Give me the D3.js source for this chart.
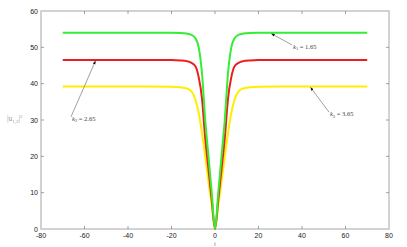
<!DOCTYPE html>
<html>
<head>
<meta charset="utf-8">
<script src="https://cdn.jsdelivr.net/npm/d3@7"></script>
<style>
    body { margin: 0; background: #fff; }
    svg { display: block; }
    .tick-label { font-family: "Liberation Sans", Arial, sans-serif; font-size: 7px; fill: #222; }
    .note { font-family: "Liberation Serif", "Times New Roman", serif; font-size: 6.5px; fill: #444; }
</style>
</head>
<body>
<svg id="chart" width="407" height="247"></svg>
<script>
// t samples
const tValues = [-70, -30, -20, -16, -13, -11, -9, -7.5, -6, -4.5, -3, -1.5, 0,
                 1.5, 3, 4.5, 6, 7.5, 9, 11, 13, 16, 20, 30, 70];

// |u|^2 for each k, read at the t samples above
const greenValues = [54, 54, 54, 53.95, 53.8, 53.5, 52.5, 50, 43, 30, 20, 10, 0,
                     10, 20, 30, 43, 50, 52.5, 53.5, 53.8, 53.95, 54, 54, 54];
const redValues = [46.5, 46.5, 46.5, 46.4, 46.2, 45.8, 44.8, 41.8, 36, 25, 16.5, 8, 0,
                   8, 16.5, 25, 36, 41.8, 44.8, 45.8, 46.2, 46.4, 46.5, 46.5, 46.5];
const yellowValues = [39.2, 39.2, 39.15, 39, 38.7, 38, 35.6, 32, 26.5, 20, 13, 6.5, 0,
                      6.5, 13, 20, 26.5, 32, 35.6, 38, 38.7, 39, 39.15, 39.2, 39.2];

const xTicks = [-80, -60, -40, -20, 0, 20, 40, 60, 80];
const yTicks = [0, 10, 20, 30, 40, 50, 60];

// annotations: subscript, value, data point the arrow hits, text position in data units
const notes = [
    { k: '1', val: '1.65', at: [26, 54], text: [35.4, 50.4] },
    { k: '2', val: '2.65', at: [-55, 46.5], text: [-66.2, 30.6] },
    { k: '3', val: '3.65', at: [44, 39.2], text: [52.4, 31.9] }
];

const series = [
    { values: yellowValues, color: '#ffee00' },
    { values: redValues, color: '#ee1c1c' },
    { values: greenValues, color: '#33ee33' }
];

const svg = d3.select('#chart');
const box = { left: 41, right: 389, top: 11, bottom: 229 };

const x = d3.scaleLinear().domain([-80, 80]).range([box.left, box.right]);
const y = d3.scaleLinear().domain([0, 60]).range([box.bottom, box.top]);

const axisColor = '#c4c4c4';

// frame
svg.append('rect')
    .attr('x', box.left).attr('y', box.top)
    .attr('width', box.right - box.left).attr('height', box.bottom - box.top)
    .attr('fill', 'none').attr('stroke', axisColor).attr('stroke-width', 1.5);

// inward ticks on all four sides
const tickLen = 3;
const g = svg.append('g').attr('stroke', '#888').attr('stroke-width', 0.8);
xTicks.slice(1, -1).forEach(t => {
    g.append('line').attr('x1', x(t)).attr('x2', x(t)).attr('y1', box.bottom).attr('y2', box.bottom - tickLen);
    g.append('line').attr('x1', x(t)).attr('x2', x(t)).attr('y1', box.top).attr('y2', box.top + tickLen);
});
yTicks.slice(1, -1).forEach(v => {
    g.append('line').attr('x1', box.left).attr('x2', box.left + tickLen).attr('y1', y(v)).attr('y2', y(v));
    g.append('line').attr('x1', box.right).attr('x2', box.right - tickLen).attr('y1', y(v)).attr('y2', y(v));
});

// tick labels
svg.append('g').selectAll('text')
    .data(xTicks)
    .enter().append('text')
    .attr('class', 'tick-label')
    .attr('x', d => x(d))
    .attr('y', box.bottom + 9)
    .attr('text-anchor', 'middle')
    .text(d => d);

svg.append('g').selectAll('text')
    .data(yTicks)
    .enter().append('text')
    .attr('class', 'tick-label')
    .attr('x', box.left - 3)
    .attr('y', d => y(d) + 2.5)
    .attr('text-anchor', 'end')
    .text(d => d);

// axis titles
const yLabel = svg.append('text')
    .attr('x', 7).attr('y', 121)
    .attr('font-family', '"Liberation Serif", serif')
    .attr('font-size', 7.5)
    .attr('fill', '#999');
yLabel.append('tspan').text('|u');
yLabel.append('tspan').attr('font-size', 5).attr('dy', 1.5).text('1,2');
yLabel.append('tspan').attr('dy', -1.5).text('|');
yLabel.append('tspan').attr('font-size', 5).attr('dy', -3).text('2');

svg.append('text')
    .attr('x', x(0)).attr('y', 246)
    .attr('text-anchor', 'middle')
    .attr('font-family', '"Liberation Serif", serif')
    .attr('font-style', 'italic')
    .attr('font-size', 6.5)
    .attr('fill', '#777')
    .text('t');

// curves
const line = d3.line()
    .x((d, i) => x(tValues[i]))
    .y(d => y(d))
    .curve(d3.curveMonotoneX);

svg.append('g').selectAll('path')
    .data(series)
    .enter().append('path')
    .attr('d', d => line(d.values))
    .attr('fill', 'none')
    .attr('stroke', d => d.color)
    .attr('stroke-width', 2);

// arrows
svg.append('defs').append('marker')
    .attr('id', 'head')
    .attr('viewBox', '0 0 10 10')
    .attr('refX', 9).attr('refY', 5)
    .attr('markerWidth', 5).attr('markerHeight', 5)
    .attr('orient', 'auto')
    .append('path')
    .attr('d', 'M0,1 L10,5 L0,9 Z')
    .attr('fill', '#111');

notes.forEach(n => {
    const tx = x(n.text[0]);
    const ty = y(n.text[1]);
    const ax = x(n.at[0]);
    const ay = y(n.at[1]) + 1;
    svg.append('line')
        .attr('x1', tx).attr('y1', ty - 1)
        .attr('x2', ax).attr('y2', ay)
        .attr('stroke', '#777').attr('stroke-width', 0.7)
        .attr('marker-end', 'url(#head)');
    const label = svg.append('text')
        .attr('class', 'note')
        .attr('x', tx + 1).attr('y', ty + 3);
    label.append('tspan').attr('font-style', 'italic').text('k');
    label.append('tspan').attr('font-size', 4.5).attr('dy', 1.5).text(n.k);
    label.append('tspan').attr('dy', -1.5).text(' = ' + n.val);
});
</script>
</body>
</html>
